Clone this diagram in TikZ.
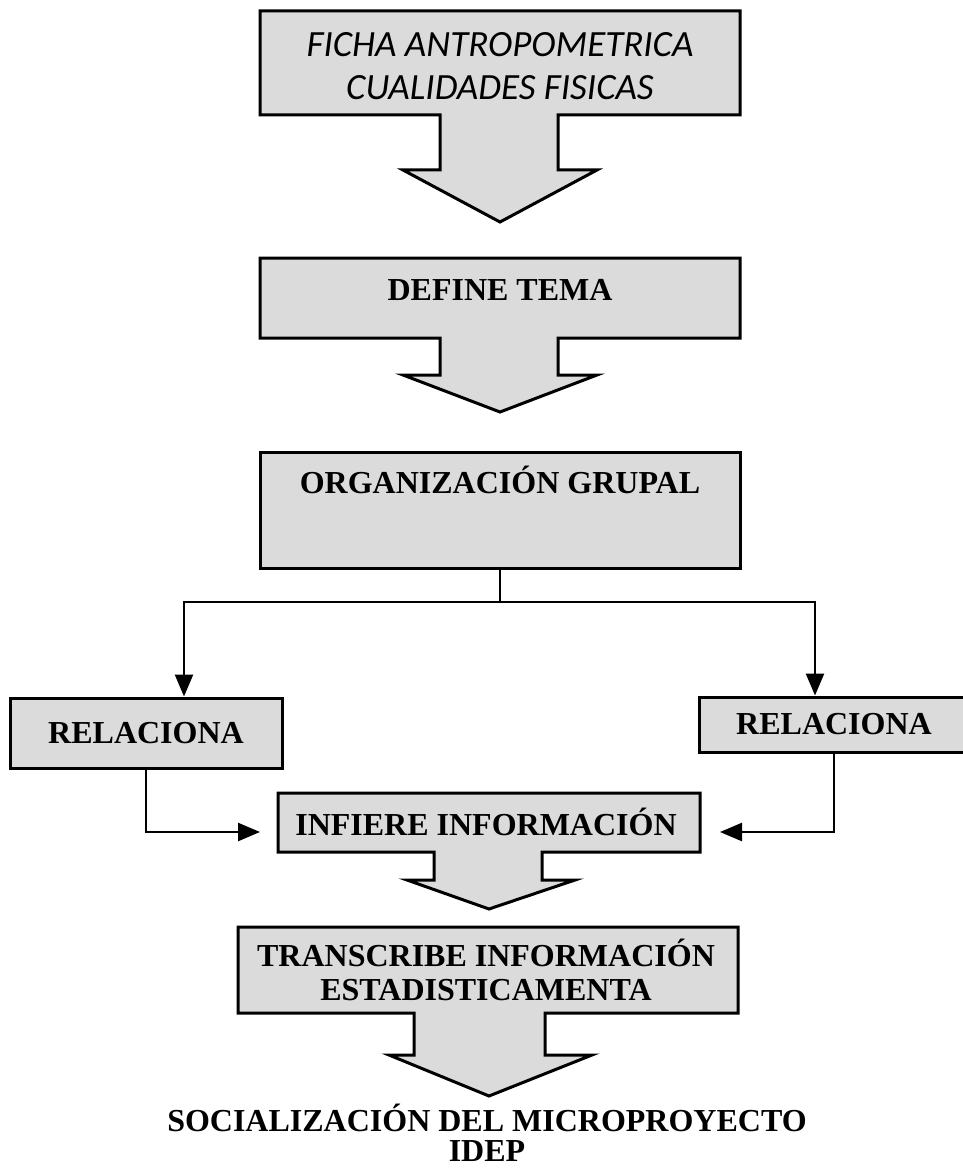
\documentclass[tikz,border=0pt]{standalone}
\usepackage{fontspec}
\setmainfont{Liberation Serif}
\newfontfamily\fichafont{Carlito}
\usetikzlibrary{arrows.meta}

\tikzset{
  caja/.style={draw=black, line width=3pt, fill=black!14},
  etiq/.style={font=\fontsize{32}{34}\selectfont\bfseries, align=center, inner sep=0pt},
  flecha/.style={line width=2.5pt, -{Triangle[length=22pt,width=18pt]}},
  linea/.style={line width=2.5pt},
}

\begin{document}
\begin{tikzpicture}[x=1pt,y=-1pt]
  \useasboundingbox (0,0) rectangle (962,1174);

  % cajas con flecha hacia abajo
  \filldraw[caja] (260,11) -- (740,11) -- (740,115) -- (558,115) -- (558,170) -- (597,170)
    -- (500,222) -- (403,170) -- (440,170) -- (440,115) -- (260,115) -- cycle;
  \filldraw[caja] (260,258) -- (740,258) -- (740,338) -- (558,338) -- (558,375) -- (597,375)
    -- (500,412) -- (403,375) -- (440,375) -- (440,338) -- (260,338) -- cycle;
  \filldraw[caja] (260,452) rectangle (740,568);
  \filldraw[caja] (278,793) -- (700,793) -- (700,852) -- (542,852) -- (542,880) -- (575,880)
    -- (489,909) -- (407,880) -- (434,880) -- (434,852) -- (278,852) -- cycle;
  \filldraw[caja] (238,927) -- (738,927) -- (738,1013) -- (545,1013) -- (545,1055) -- (592,1055)
    -- (489,1096) -- (389,1055) -- (414,1055) -- (414,1013) -- (238,1013) -- cycle;

  \node[inner sep=0pt, align=center, font=\fontsize{37}{43}\selectfont\fichafont\itshape]
    (ficha) at (500,66) {FICHA ANTROPOMETRICA\\CUALIDADES FISICAS};
  \node[etiq] (tema) at (500,290) {DEFINE TEMA};
  \node[etiq] (org) at (500,480) {ORGANIZACIÓN GRUPAL};
  \coordinate (orgbot) at (500,568);
  \coordinate (rama) at (500,602);

  \node[caja, etiq, minimum width=272pt, minimum height=70pt] (relizq) at (146,733) {RELACIONA};
  \node[caja, etiq, minimum width=270pt, minimum height=55pt] (relder) at (834,724.5) {RELACIONA};

  \node[etiq] (infiere) at (486,822) {INFIERE INFORMACIÓN};
  \coordinate (infizq) at (278,832);
  \coordinate (infder) at (700,832);
  \node[etiq] (transc) at (486,970) {TRANSCRIBE INFORMACIÓN\\ESTADISTICAMENTA};
  \node[etiq, font=\fontsize{32}{30}\selectfont\bfseries] (social) at (487,1133)
    {SOCIALIZACIÓN DEL MICROPROYECTO\\IDEP};

  % conectores
  \draw[linea] (orgbot) -- (rama);
  \draw[flecha] (rama) -| ([xshift=38pt]relizq.north);
  \draw[flecha] (rama) -| ([xshift=-19pt]relder.north);
  \draw[flecha, shorten >=18pt] (relizq.south) |- (infizq);
  \draw[flecha, shorten >=20pt] (relder.south) |- (infder);
\end{tikzpicture}
\end{document}
